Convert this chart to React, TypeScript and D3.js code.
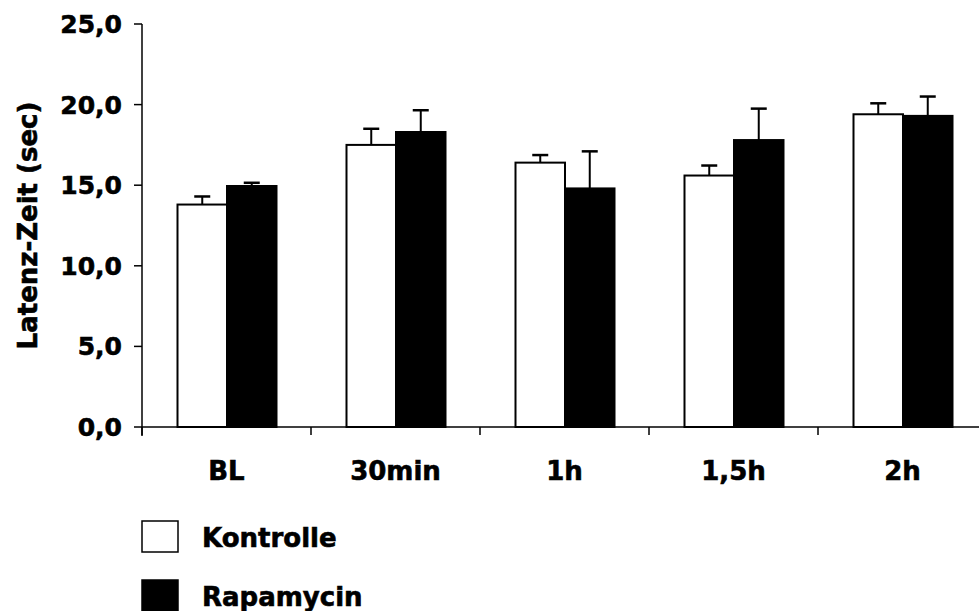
import { useEffect, useRef } from 'react';
import * as d3 from 'd3';

const categories = ['BL', '30min', '1h', '1,5h', '2h'];
const seriesNames = ['Kontrolle', 'Rapamycin'];
const kontrolle = [13.8, 17.5, 16.4, 15.6, 19.4];
const kontrolleErr = [0.5, 1.0, 0.47, 0.62, 0.68];
const rapamycin = [14.95, 18.3, 14.8, 17.8, 19.3];
const rapamycinErr = [0.2, 1.35, 2.3, 1.95, 1.2];
const yTicks = [0, 5, 10, 15, 20, 25];

const fills = ['#ffffff', '#000000'];
const font = '"DejaVu Sans", Verdana, sans-serif';

function App() {
  const ref = useRef<SVGSVGElement>(null);

  useEffect(() => {
    drawChart();
    // eslint-disable-next-line
  }, []);

  function label(sel: any, size: number) {
    return sel
      .style('font-family', font)
      .style('font-weight', 'bold')
      .style('font-size', `${size}px`)
      .attr('stroke', '#000')
      .attr('stroke-width', 0.6);
  }

  function drawChart() {
    const config = { width: 979, height: 611, left: 142, top: 24, bottom: 427, right: 987 };
    const svg = d3.select(ref.current);
    svg.selectAll('*').remove();

    const xScale = d3.scaleBand<string>()
      .domain(categories)
      .range([config.left, config.right]);

    const inner = d3.scaleBand<string>()
      .domain(seriesNames)
      .range([35.5, 134.5]);

    const yScale = d3.scaleLinear()
      .domain([0, 25])
      .range([config.bottom, config.top]);

    // y axis
    const yAxis = svg.append('g');
    yAxis.append('line')
      .attr('x1', config.left).attr('x2', config.left)
      .attr('y1', config.top).attr('y2', config.bottom + 9)
      .attr('stroke', '#000').attr('stroke-width', 1.5);
    yAxis.selectAll('line.tick').data(yTicks).join('line')
      .attr('class', 'tick')
      .attr('x1', config.left - 8).attr('x2', config.left)
      .attr('y1', d => yScale(d)).attr('y2', d => yScale(d))
      .attr('stroke', '#000').attr('stroke-width', 1.5);
    label(yAxis.selectAll('text').data(yTicks).join('text'), 25)
      .attr('x', config.left - 20)
      .attr('y', (d: number) => yScale(d))
      .attr('dy', '0.36em')
      .attr('text-anchor', 'end')
      .text((d: number) => d3.format('.1f')(d).replace('.', ','));

    label(svg.append('text'), 26)
      .attr('transform', `translate(37, ${(config.top + config.bottom) / 2}) rotate(-90)`)
      .attr('text-anchor', 'middle')
      .text('Latenz-Zeit (sec)');

    // x axis
    const xAxis = svg.append('g');
    xAxis.append('line')
      .attr('x1', config.left).attr('x2', config.width)
      .attr('y1', config.bottom).attr('y2', config.bottom)
      .attr('stroke', '#000').attr('stroke-width', 1.5);
    xAxis.selectAll('line.tick').data(categories).join('line')
      .attr('class', 'tick')
      .attr('x1', d => xScale(d)!).attr('x2', d => xScale(d)!)
      .attr('y1', config.bottom).attr('y2', config.bottom + 8)
      .attr('stroke', '#000').attr('stroke-width', 1.5);
    label(xAxis.selectAll('text').data(categories).join('text'), 26)
      .attr('x', (d: string) => xScale(d)! + xScale.bandwidth() / 2)
      .attr('y', 480)
      .attr('text-anchor', 'middle')
      .text((d: string) => d);

    // bars
    const series = [
      { name: seriesNames[0], values: kontrolle, errs: kontrolleErr, fill: fills[0] },
      { name: seriesNames[1], values: rapamycin, errs: rapamycinErr, fill: fills[1] },
    ];

    series.forEach(s => {
      const g = svg.append('g');
      const rows = categories.map((c, i) => ({ c, v: s.values[i], e: s.errs[i] }));
      const x0 = (d: { c: string }) => xScale(d.c)! + inner(s.name)!;
      const w = inner.bandwidth();

      g.selectAll('line.err').data(rows).join('line')
        .attr('class', 'err')
        .attr('x1', d => x0(d) + w / 2).attr('x2', d => x0(d) + w / 2)
        .attr('y1', d => yScale(d.v)).attr('y2', d => yScale(d.v + d.e))
        .attr('stroke', '#000').attr('stroke-width', 2);
      g.selectAll('line.cap').data(rows).join('line')
        .attr('class', 'cap')
        .attr('x1', d => x0(d) + w / 2 - 8).attr('x2', d => x0(d) + w / 2 + 8)
        .attr('y1', d => yScale(d.v + d.e)).attr('y2', d => yScale(d.v + d.e))
        .attr('stroke', '#000').attr('stroke-width', 2.5);
      g.selectAll('rect').data(rows).join('rect')
        .attr('x', d => x0(d))
        .attr('y', d => yScale(d.v))
        .attr('width', w)
        .attr('height', d => config.bottom - yScale(d.v))
        .attr('fill', s.fill)
        .attr('stroke', '#000')
        .attr('stroke-width', 2);
    });

    // legend
    const legend = svg.append('g');
    const legendY = [521, 580];
    series.forEach((s, i) => {
      legend.append('rect')
        .attr('x', 142).attr('y', legendY[i])
        .attr('width', 36).attr('height', 31)
        .attr('fill', s.fill).attr('stroke', '#000').attr('stroke-width', 1.5);
      label(legend.append('text'), 26)
        .attr('x', 202).attr('y', legendY[i] + 26)
        .text(s.name);
    });
  }

  return (
    <svg ref={ref} width={979} height={611}
      style={{ position: 'absolute', left: 0, top: 0, background: '#fff' }} />
  );
}

export default App;
